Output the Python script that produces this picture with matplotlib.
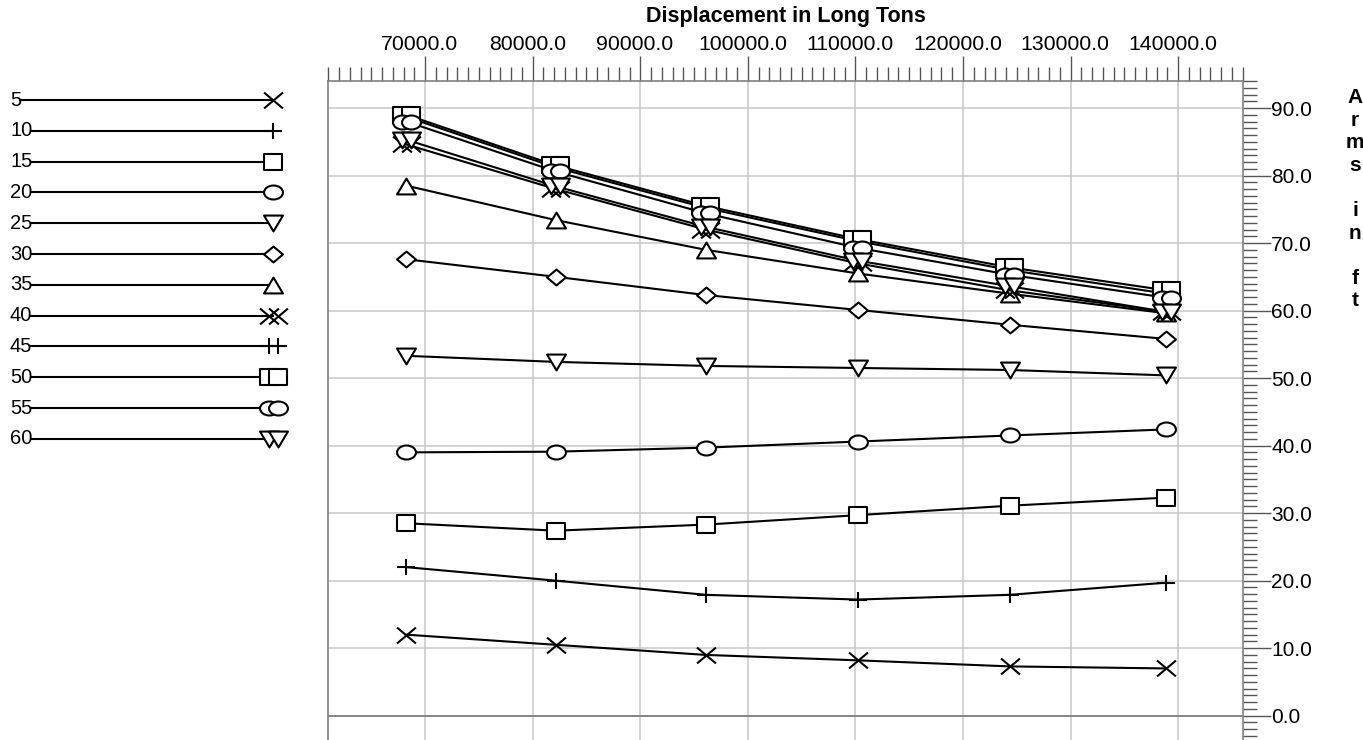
import matplotlib
matplotlib.use("Agg")
import matplotlib.pyplot as plt
from matplotlib.path import Path
from matplotlib.markers import MarkerStyle
from matplotlib.ticker import MultipleLocator, FormatStrFormatter
from matplotlib.transforms import offset_copy, ScaledTranslation

plt.rcParams['font.family'] = ['Liberation Sans', 'DejaVu Sans']

# Cross curves of stability: righting arm vs displacement for each heel angle
displacement = [68250, 82140, 96090, 110200, 124340, 138890]
heel_angles = [5, 10, 15, 20, 25, 30, 35, 40, 45, 50, 55, 60]

arm_05 = [12.0, 10.5, 9.0, 8.2, 7.3, 7.0]
arm_10 = [22.0, 20.0, 17.9, 17.2, 17.9, 19.7]
arm_15 = [28.5, 27.4, 28.3, 29.7, 31.1, 32.3]
arm_20 = [39.0, 39.1, 39.7, 40.6, 41.5, 42.4]
arm_25 = [53.3, 52.4, 51.8, 51.5, 51.2, 50.4]
arm_30 = [67.6, 65.0, 62.3, 60.1, 57.9, 55.8]
arm_35 = [78.5, 73.4, 69.0, 65.5, 62.5, 59.6]
arm_40 = [84.6, 78.0, 72.0, 67.0, 63.0, 59.8]
arm_45 = [88.7, 81.2, 75.2, 70.3, 66.0, 62.5]
arm_50 = [89.0, 81.5, 75.5, 70.6, 66.4, 63.0]
arm_55 = [88.0, 80.6, 74.4, 69.3, 65.3, 61.9]
arm_60 = [85.3, 78.4, 72.4, 67.4, 63.6, 59.8]

arms = [arm_05, arm_10, arm_15, arm_20, arm_25, arm_30,
        arm_35, arm_40, arm_45, arm_50, arm_55, arm_60]

x_label = "Displacement in Long Tons"
y_label = "Arms in ft"

W, H = 1363, 740
fig = plt.figure(figsize=(W / 100, H / 100), dpi=100)

# ---- marker shapes (slightly wider than tall) ----
h = 0.84
M, L, C = Path.MOVETO, Path.LINETO, Path.CLOSEPOLY
shape_x = Path([(-1, -h), (1, h), (-1, h), (1, -h)], [M, L, M, L])
shape_plus = Path([(-1, 0), (1, 0), (0, -h), (0, h)], [M, L, M, L])
shape_square = Path([(-1, -h), (1, -h), (1, h), (-1, h), (-1, -h)], [M, L, L, L, C])
_circ = Path.unit_circle()
shape_circle = Path(_circ.vertices * [1, 0.74], _circ.codes)
shape_tri_down = Path([(-1, h), (1, h), (0, -h), (-1, h)], [M, L, L, C])
shape_diamond = Path([(0, h), (1, 0), (0, -h), (-1, 0), (0, h)], [M, L, L, L, C])
shape_tri_up = Path([(-1, -h), (1, -h), (0, h), (-1, -h)], [M, L, L, C])

shapes = [shape_x, shape_plus, shape_square, shape_circle,
          shape_tri_down, shape_diamond, shape_tri_up]
open_shapes = {0, 1}

MS = 13.6
LW = 1.5
PAIR_DX = 4.5  # pixel offset of the twin markers


def marker_kwargs(k):
    ms = MarkerStyle(shapes[k], joinstyle='miter', capstyle='butt')
    face = 'none' if k in open_shapes else 'white'
    return dict(marker=ms, markersize=MS, markeredgewidth=LW,
                markeredgecolor='black', markerfacecolor=face, linestyle='none')


# ---- main axes ----
top_px = 81
ax = fig.add_axes([328.3 / W, 0.0, (1242.7 - 328.3) / W, 1 - top_px / H])
ax.set_xlim(61000, 146000)
ax.set_ylim(-3.6, 94)

ax.xaxis.set_major_locator(MultipleLocator(10000))
ax.xaxis.set_minor_locator(MultipleLocator(1000))
ax.yaxis.set_major_locator(MultipleLocator(10))
ax.yaxis.set_minor_locator(MultipleLocator(1))
ax.xaxis.set_major_formatter(FormatStrFormatter('%.1f'))
ax.yaxis.set_major_formatter(FormatStrFormatter('%.1f'))

tick_col = '#555555'
ax.tick_params(axis='x', which='both', top=True, bottom=False, labeltop=True,
               labelbottom=False, direction='out', color=tick_col, width=1.0,
               labelsize=15.3, pad=1.5)
ax.tick_params(axis='x', which='major', length=18.2)
ax.tick_params(axis='x', which='minor', length=9.9)
ax.tick_params(axis='y', which='both', right=True, left=False, labelright=True,
               labelleft=False, direction='out', color=tick_col, width=1.0,
               labelsize=15, pad=0.5)
ax.tick_params(axis='y', which='major', length=20)
ax.tick_params(axis='y', which='minor', length=10)

ax.set_xticks(range(70000, 140001, 10000))
for lbl in ax.get_xticklabels():
    lbl.set_transform(lbl.get_transform() +
                      ScaledTranslation(-5.5 / 100, 0, fig.dpi_scale_trans))

ax.grid(which='major', color='#c8c8c8', linewidth=1.1, zorder=0)
ax.set_axisbelow(True)
ax.axhline(0, color='#808080', linewidth=1.3, zorder=1)

for side in ('top', 'right', 'left'):
    ax.spines[side].set_color('#808080')
    ax.spines[side].set_linewidth(1.2)
ax.spines['bottom'].set_visible(False)

ax.xaxis.set_label_position('top')
ax.set_xlabel(x_label, fontsize=15.5, fontweight='bold', labelpad=9)

# ---- curves ----
for i, (angle, vals) in enumerate(zip(heel_angles, arms)):
    k = i % 7
    twin = i >= 7
    z = 3 + i
    ax.plot(displacement, vals, color='black', linewidth=LW, zorder=z,
            solid_joinstyle='miter')
    if twin:
        for dx in (-PAIR_DX, PAIR_DX):
            tr = offset_copy(ax.transData, fig=fig, x=dx, y=0, units='dots')
            ax.plot(displacement, vals, transform=tr, zorder=z + 0.5,
                    **marker_kwargs(k))
    else:
        ax.plot(displacement, vals, zorder=z + 0.5, **marker_kwargs(k))

# ---- vertical axis title, one letter per line ----
fig.text(1355 / W, 1 - 88 / H, "\n".join(y_label),
         ha='center', va='top', fontsize=15, fontweight='bold',
         linespacing=1.24, multialignment='center')

# ---- key on the left: label, rule, marker ----
lax = fig.add_axes([0, 0, 1, 1])
lax.set_xlim(0, W)
lax.set_ylim(H, 0)
lax.axis('off')
lax.patch.set_visible(False)

key_x_text = 10
key_x_mark = 273
key_y0, key_dy = 100, 30.8
renderer = fig.canvas.get_renderer()
for i, angle in enumerate(heel_angles):
    y = key_y0 + key_dy * i
    t = lax.text(key_x_text, y, str(angle), fontsize=14.5, va='center', ha='left')
    bb = t.get_window_extent(renderer)
    x_end = lax.transData.inverted().transform((bb.x1, 0))[0]
    lax.plot([x_end - 1, key_x_mark], [y, y], color='black', linewidth=LW)
    k = i % 7
    if i >= 7:
        for dx in (-PAIR_DX, PAIR_DX):
            tr = offset_copy(lax.transData, fig=fig, x=dx, y=0, units='dots')
            lax.plot([key_x_mark], [y], transform=tr, **marker_kwargs(k))
    else:
        lax.plot([key_x_mark], [y], **marker_kwargs(k))

fig.savefig("out.png", dpi=100)
